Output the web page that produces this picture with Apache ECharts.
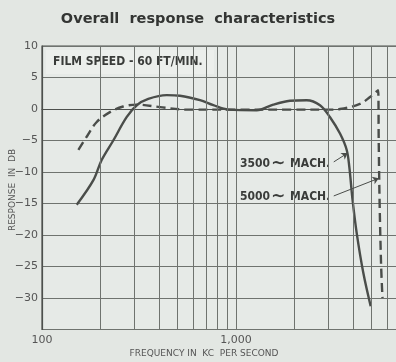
<!DOCTYPE html>
<html>
<head>
<meta charset="utf-8">
<script src="https://cdn.jsdelivr.net/npm/echarts@6/dist/echarts.min.js"></script>
<style>
html,body{margin:0;padding:0;background:#e3e7e3;}
#c{width:396px;height:362px;}
</style>
</head>
<body>
<div id="c"></div>
<script>
// Frequency (c/s) and response (dB)
const solidFreq = [151, 184, 203, 233, 273, 308, 353, 439, 514, 652, 764, 913, 1279, 1557, 1898, 2314, 2710, 3053, 3436, 3721, 3838, 3987, 4190, 4531, 4946];
const solidDb   = [-15.2, -11.3, -8.1, -5.0, -1.3, 0.6, 1.6, 2.2, 2.1, 1.4, 0.6, -0.1, -0.2, 0.7, 1.3, 1.4, 0.6, -1.3, -3.9, -6.5, -9.2, -14.4, -19.7, -26.0, -31.3];
const dashFreq  = [154, 170, 191, 224, 262, 308, 406, 557, 1000, 2000, 3000, 3436, 4355, 4909, 5400, 5440, 5500, 5600, 5690];
const dashDb    = [-6.5, -4.4, -2.1, -0.5, 0.4, 0.7, 0.3, -0.1, -0.1, -0.1, -0.1, 0.0, 0.8, 1.9, 3.0, -5, -15, -25, -30];
const minorFreqs = [200, 300, 400, 500, 600, 700, 800, 900, 2000, 3000, 4000, 5000, 6000, 7000, 8000, 9000];
const yTicks = [10, 5, 0, -5, -10, -15, -20, -25, -30];
const titleText = 'Overall  response  characteristics';
const filmSpeed = 'FILM SPEED - 60 FT/MIN.';
const label3500 = '3500{t|\u223C} MACH.';
const label5000 = '5000{t|\u223C} MACH.';
const yName = 'RESPONSE  IN  DB';
const xName = 'FREQUENCY IN  KC  PER SECOND';

const ink = '#4a4d4a';
const grid = '#6f736f';
const annFont = {fontFamily: 'DejaVu Sans Condensed', fontWeight: 'bold', fontSize: 12, fill: '#3a3c3a', verticalAlign: 'middle'};
const tildeRich = {t: {fontFamily: 'DejaVu Sans', fontWeight: 'bold', fontSize: 17, fill: '#3a3c3a', padding: [0, 1, 0, 1]}};

const chart = echarts.init(document.getElementById('c'), null, {renderer: 'canvas'});
chart.setOption({
  backgroundColor: '#e3e7e3',
  animation: false,
  title: {
    text: titleText, left: 'center', top: 7,
    textStyle: {fontFamily: 'DejaVu Sans', fontWeight: 'bold', fontSize: 14.5, color: '#333533'}
  },
  grid: {
    left: 42, top: 46, width: 388, height: 283.5,
    outerBoundsMode: 'none', containLabel: false,
    show: true, backgroundColor: '#e6eae7', borderColor: '#4d504d', borderWidth: 1.2
  },
  xAxis: {
    type: 'log', logBase: 10, min: 100, max: 10000,
    axisLine: {show: true, lineStyle: {color: '#4d504d', width: 1.2}},
    axisTick: {show: false},
    splitLine: {show: true, lineStyle: {color: grid, width: 1}},
    axisLabel: {
      margin: 5, color: '#555', fontSize: 11, fontFamily: 'DejaVu Sans',
      formatter: v => v === 100 ? '100' : (v === 1000 ? '1,000' : '')
    }
  },
  yAxis: {
    type: 'value', min: -35, max: 10, interval: 5,
    axisLine: {show: true, lineStyle: {color: '#4d504d', width: 1.2}},
    axisTick: {show: false},
    splitLine: {show: true, lineStyle: {color: grid, width: 1}},
    axisLabel: {
      margin: 4, color: '#555', fontSize: 11, fontFamily: 'DejaVu Sans',
      formatter: v => yTicks.indexOf(v) < 0 ? '' : (v < 0 ? '\u2212' + Math.abs(v) : String(v))
    }
  },
  graphic: [
    {type: 'rect', shape: {x: 46, y: 50, width: 168, height: 24},
     style: {fill: '#ecefec'}, z: 1},
    {type: 'text', x: 53, y: 62, z: 5, style: Object.assign({text: filmSpeed}, annFont)},
    {type: 'text', x: 240, y: 164, z: 5, style: Object.assign({text: label3500, rich: tildeRich}, annFont)},
    {type: 'text', x: 240, y: 197, z: 5, style: Object.assign({text: label5000, rich: tildeRich}, annFont)},
    {type: 'text', x: 204, y: 354, z: 5,
     style: {text: xName, fontFamily: 'DejaVu Sans', fontSize: 9, fill: '#555', align: 'center', verticalAlign: 'middle'}},
    {type: 'text', x: 13, y: 190, rotation: Math.PI / 2, z: 5,
     style: {text: yName, fontFamily: 'DejaVu Sans', fontSize: 9, fill: '#555', align: 'center', verticalAlign: 'middle'}}
  ],
  series: [
    {
      type: 'line', data: [], silent: true,
      markLine: {
        silent: true, symbol: 'none', label: {show: false},
        lineStyle: {type: 'solid', color: grid, width: 1},
        data: minorFreqs.map(f => ({xAxis: f}))
      }
    },
    {
      type: 'line', smooth: 0.35, symbol: 'none', z: 4,
      lineStyle: {color: ink, width: 2.4},
      data: solidFreq.map((f, i) => [f, solidDb[i]]),
      markLine: {
        silent: true, symbol: ['none', 'arrow'], symbolSize: 6, label: {show: false},
        lineStyle: {type: 'solid', color: ink, width: 1},
        data: [
          [{coord: [3190, -8.4]}, {coord: [3760, -7.0]}],
          [{coord: [3190, -13.8]}, {coord: [5440, -11.0]}]
        ]
      }
    },
    {
      type: 'line', smooth: 0.35, symbol: 'none', z: 4,
      lineStyle: {color: ink, width: 2.4, type: [9, 5]},
      data: dashFreq.map((f, i) => [f, dashDb[i]])
    }
  ]
});
</script>
</body>
</html>
